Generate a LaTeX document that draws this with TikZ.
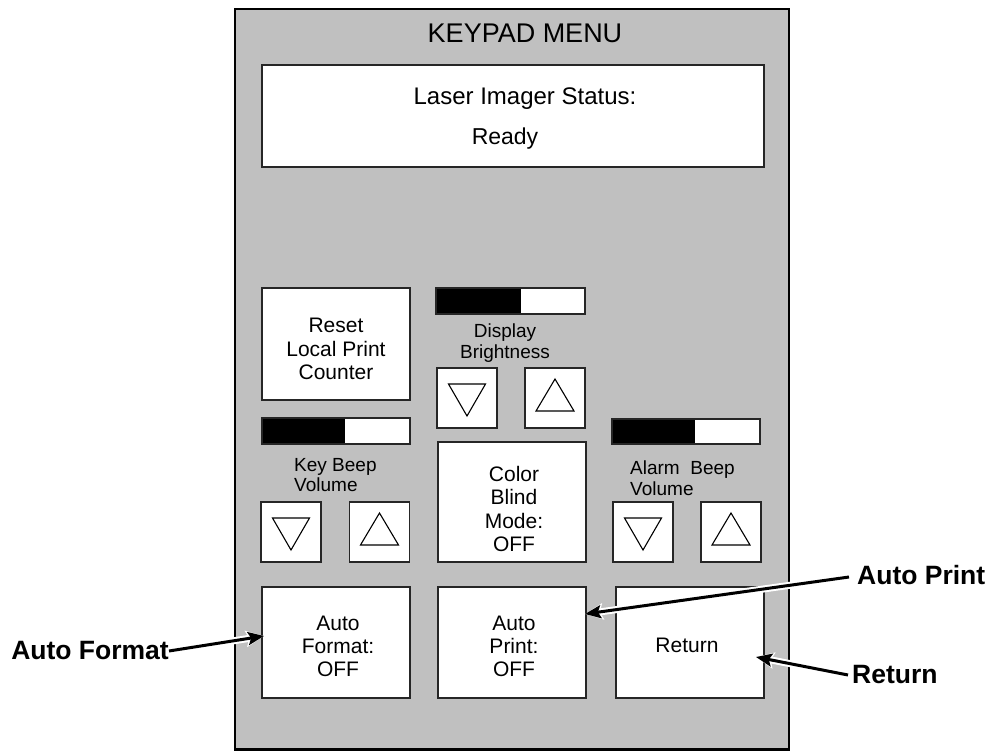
\documentclass[tikz,border=0pt]{standalone}
\usepackage{fontspec}
\setmainfont{Liberation Sans}
\usetikzlibrary{arrows.meta}
\definecolor{panelgray}{RGB}{192,192,192}
\newcommand{\fsz}[2]{\fontsize{#1}{#2}\selectfont}
\tikzset{
  panelbox/.style={draw=black, fill=panelgray, line width=2.8pt},
  btn/.style={draw=black!85, fill=white, line width=1.3pt, inner sep=0pt, outer sep=0pt, align=center, font=\fsz{21}{23.5}},
  barfill/.style={fill=black},
  small/.style={inner sep=0pt, font=\fsz{19}{20.5}},
  lbl/.style={inner sep=0pt, font=\bfseries\fsz{26.5}{29}},
  callout/.style={line width=3pt, -{Stealth[length=16pt,width=13pt,inset=3pt]},
     preaction={draw=white, line width=7pt, -{Stealth[length=18pt,width=16pt,inset=3pt]}}},
  downtri/.pic={\draw[line width=1.1pt, line join=miter] (-18.5,-14) -- (18.5,-14) -- (0,18) -- cycle;},
  uptri/.pic={\draw[line width=1.1pt, line join=miter] (-19,13) -- (19,13) -- (0,-19) -- cycle;}
}
\begin{document}
\begin{tikzpicture}[x=1pt, y=-1pt]
\useasboundingbox (0,0) rectangle (991,752);
% panel
\draw[panelbox] (235,9) rectangle (789,749.5);
\node[inner sep=0pt, font=\fsz{27}{30}] (title) at (525,33) {KEYPAD MENU};
% status display
\node[btn, minimum width=502pt, minimum height=102pt] (status) at (513,116) {};
\node[inner sep=0pt, font=\fsz{24}{27}] (st1) at (525,99) {Laser Imager Status:};
\node[inner sep=0pt, font=\fsz{23}{26}] (st2) at (505,139) {Ready};
% reset
\node[btn, minimum width=148pt, minimum height=112pt] (reset) at (336,344) {};
\node[align=center, inner sep=0pt, font=\fsz{21}{23.5}] (resettxt) at (336,349) {Reset\\Local Print\\Counter};
% display brightness
\fill[white] (436,288) rectangle (585,314);
\fill[barfill] (436,288) rectangle (521,314);
\draw[draw=black!85, line width=1.3pt] (436,288) rectangle (585,314);
\node[small, align=center] (dbtxt) at (505,343) {Display\\Brightness};
\node[btn, minimum width=60pt, minimum height=60pt] (bdn) at (467,398) {};
\node[btn, minimum width=60pt, minimum height=60pt] (bup) at (555,398) {};
\pic at (bdn.center) {downtri};
\pic at (bup.center) {uptri};
% key beep
\fill[white] (262,418) rectangle (410,444);
\fill[barfill] (262,418) rectangle (345,444);
\draw[draw=black!85, line width=1.3pt] (262,418) rectangle (410,444);
\node[small, align=left, anchor=west] (kbtxt) at (294,475) {Key Beep\\Volume};
\node[btn, minimum width=60pt, minimum height=60pt] (kdn) at (291,532) {};
\node[btn, minimum width=60pt, minimum height=60pt] (kup) at (379.5,532) {};
\pic at (kdn.center) {downtri};
\pic at (kup.center) {uptri};
% color blind
\node[btn, minimum width=148pt, minimum height=120pt] (cb) at (512,502) {};
\node[align=center, inner sep=0pt, font=\fsz{21}{23.5}] (cbtxt) at (514,509) {Color\\Blind\\Mode:\\OFF};
% alarm beep
\fill[white] (612,419) rectangle (760,444);
\fill[barfill] (612,419) rectangle (695,444);
\draw[draw=black!85, line width=1.3pt] (612,419) rectangle (760,444);
\node[small, align=left, anchor=west] (abtxt) at (630,478) {Alarm\ \ Beep\\Volume};
\node[btn, minimum width=60pt, minimum height=60pt] (adn) at (643,532) {};
\node[btn, minimum width=60pt, minimum height=60pt] (aup) at (731,532) {};
\pic at (adn.center) {downtri};
\pic at (aup.center) {uptri};
% bottom row
\node[btn, minimum width=148pt, minimum height=111pt] (af) at (336,642.5) {};
\node[align=center, inner sep=0pt, font=\fsz{21}{23}] (aftxt) at (338,646) {Auto\\Format:\\OFF};
\node[btn, minimum width=148pt, minimum height=111pt] (ap) at (512,642.5) {};
\node[align=center, inner sep=0pt, font=\fsz{21}{23}] (aptxt) at (514,646) {Auto\\Print:\\OFF};
\node[btn, minimum width=148pt, minimum height=111pt] (rt) at (690,642.5) {};
\node[inner sep=0pt, font=\fsz{21}{23}] (rttxt) at (687,645) {Return};
% callouts
\node[lbl, anchor=east] (afLbl) at (169,651) {Auto Format};
\node[lbl, anchor=west] (apLbl) at (857,575) {Auto Print};
\node[lbl, anchor=west] (rtLbl) at (852,675) {Return};
\coordinate (afTip) at (264,636);
\coordinate (apTip) at (585,614);
\coordinate (rtTip) at (756,657);
\draw[callout] (afLbl.east) -- (afTip);
\draw[callout] ([xshift=-8pt,yshift=-2pt]apLbl.west) -- (apTip);
\draw[callout] ([xshift=-4pt]rtLbl.west) -- (rtTip);
\end{tikzpicture}
\end{document}
